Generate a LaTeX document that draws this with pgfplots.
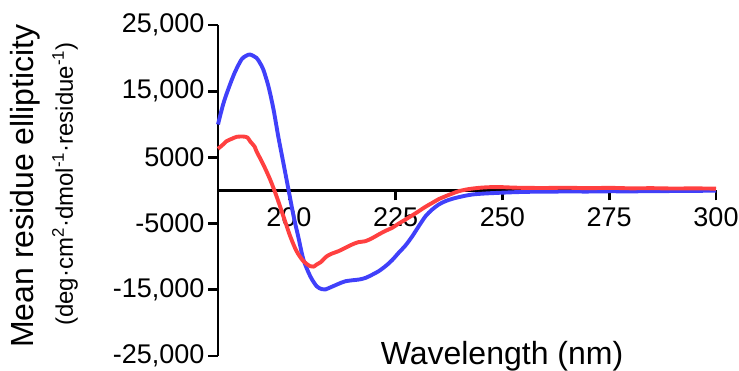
\documentclass[border=0pt]{standalone}
\usepackage{fontspec}
\setmainfont{Liberation Sans}
\usepackage{pgfplots}
\pgfplotsset{compat=1.18}
\definecolor{cdblue}{RGB}{64,64,250}
\definecolor{cdred}{RGB}{255,64,64}
\begin{document}
\begin{tikzpicture}
\path[use as bounding box] (0,0) rectangle (739pt,371pt);
\begin{axis}[
  at={(218pt,15pt)}, anchor=south west,
  scale only axis, width=498pt, height=331pt,
  xmin=183.4, xmax=300, ymin=-25000, ymax=25000,
  axis y line=left, axis x line=middle,
  axis line style={line width=2.8pt, -, black},
  y axis line style={line width=2.8pt},
  scaled y ticks=false, scaled x ticks=false,
  tick align=outside,
  major tick length=10pt,
  every tick/.style={draw=black, line width=2.8pt},
  major tick style={draw=black, line width=2.8pt},
  xtick={200,225,250,275,300}, xticklabels={200,225,250,275,300},
  ytick={-25000,-15000,-5000,5000,15000,25000},
  yticklabels={{-25,000},{-15,000},{-5000},{5000},{15,000},{25,000}},
  ticklabel style={font=\fontsize{27}{30}\selectfont},
  xticklabel style={yshift=-4pt},
  clip=false,
]
\addplot[cdblue, line width=3.9pt, smooth, line join=round] coordinates {
(183.4,9970) (184.6,13000) (185.8,15300) (187.3,17780) (188.9,19790)
(190.0,20350) (190.9,20540) (192.4,20040) (193.2,19290) (194.0,18280)
(195.2,15760) (196.4,12240) (197.5,8200) (198.7,4180) (199.9,150)
(201.1,-3880) (202.2,-7000) (203.4,-10420) (205.0,-12950) (206.5,-14460)
(207.7,-14900) (208.5,-14950) (210.2,-14500) (212.2,-13940) (213.3,-13700)
(215.0,-13550) (216.5,-13440) (218.0,-13190) (219.6,-12690) (221.0,-12200)
(222.6,-11440) (224.2,-10500) (225.7,-9410) (227.3,-8300) (228.9,-6900)
(230.5,-5300) (232.0,-3880) (233.5,-2900) (235.1,-2110) (236.7,-1600)
(238.3,-1250) (240.5,-900) (243.0,-600) (246.0,-450) (249.2,-350)
(253.1,-250) (256,-200) (260,-180) (265,-150) (270,-160) (275,-120)
(280,-130) (285,-100) (290,-80) (295,-60) (300,-20)
};
\addplot[cdred, line width=3.9pt, smooth, line join=round] coordinates {
(183.4,6300) (184.5,6900) (185.4,7450) (186.6,7800) (187.8,8110)
(189.3,8150) (190.3,8000) (190.9,7450) (192.0,6600) (192.4,5940)
(194.0,3930) (195.6,1660) (197.1,-860) (198.7,-3880) (200.3,-6900)
(201.8,-9170) (203.4,-10680) (205.0,-11440) (205.8,-11500) (206.5,-11180)
(207.5,-10800) (208.9,-9920) (210.2,-9500) (211.6,-9170) (213.2,-8660)
(214.8,-8160) (216.3,-7800) (217.9,-7660) (219.5,-7200) (221.0,-6650)
(222.6,-6100) (224.2,-5630) (225.7,-5000) (227.3,-4380) (228.9,-3750)
(230.4,-3130) (232.0,-2450) (233.6,-1860) (235.1,-1300) (236.7,-860)
(238.3,-450) (239.8,-100) (242.0,200) (244.5,400) (247.0,500)
(249.2,520) (252,450) (255,400) (260,380) (265,420) (270,350)
(275,400) (280,330) (285,350) (290,300) (295,320) (300,280)
};
\end{axis}
\node[rotate=90, font=\fontsize{32}{36}\selectfont] at (25.5pt,185pt) {Mean residue ellipticity};
\node[rotate=90, font=\fontsize{24}{28}\selectfont] at (65pt,187pt) {(deg·cm\textsuperscript{2}·dmol\textsuperscript{-1}·residue\textsuperscript{-1})};
\node[anchor=base, font=\fontsize{32}{36}\selectfont] at (502pt,6.5pt) {Wavelength (nm)};
\end{tikzpicture}
\end{document}
